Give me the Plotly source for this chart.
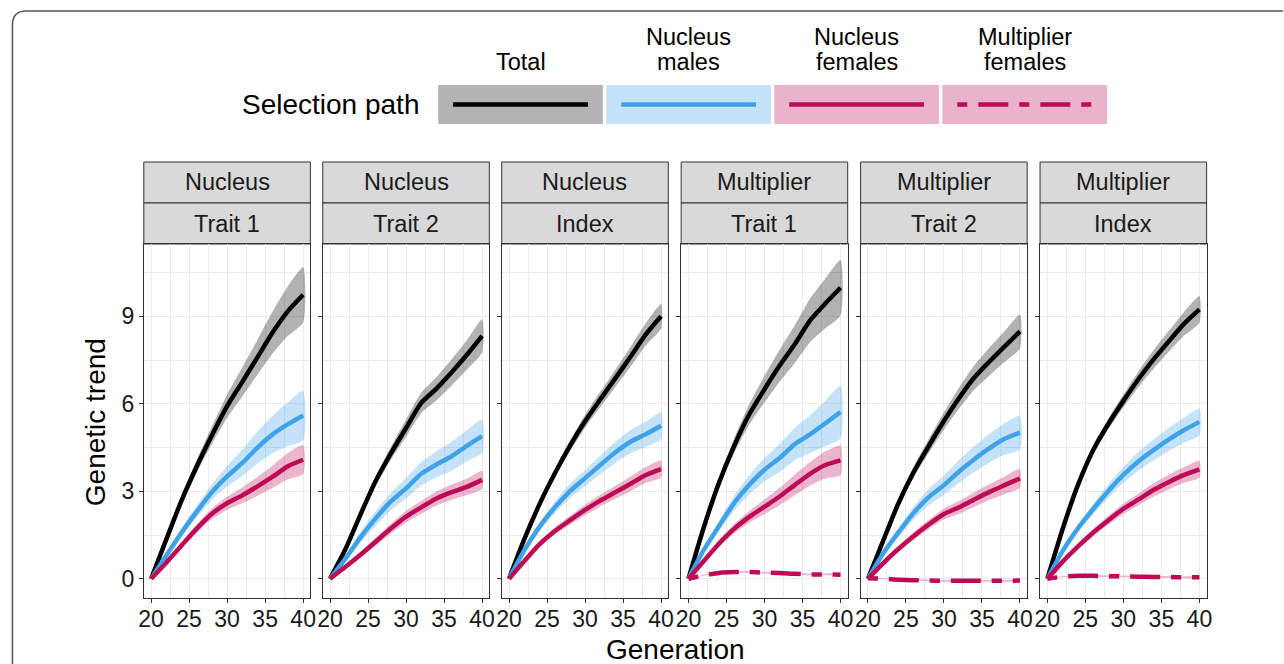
import plotly.graph_objects as go

# ---------------- data ----------------
generation = [20, 22, 24, 26, 28, 30, 32, 34, 36, 38, 40]
population = ["Nucleus", "Nucleus", "Nucleus", "Multiplier", "Multiplier", "Multiplier"]
trait = ["Trait 1", "Trait 2", "Index", "Trait 1", "Trait 2", "Index"]
path_labels = ["Total", "Nucleus<br>males", "Nucleus<br>females", "Multiplier<br>females"]

# Nucleus - Trait 1
nt1_total = [0, 1.35, 2.68, 3.85, 4.92, 5.92, 6.75, 7.60, 8.45, 9.18, 9.74]
nt1_total_hw = [0, 0.08, 0.15, 0.22, 0.30, 0.40, 0.50, 0.60, 0.72, 0.85, 0.95]
nt1_males = [0, 0.80, 1.58, 2.30, 2.97, 3.51, 3.97, 4.50, 4.95, 5.30, 5.60]
nt1_males_hw = [0, 0.08, 0.15, 0.20, 0.27, 0.35, 0.45, 0.55, 0.65, 0.75, 0.85]
nt1_females = [0, 0.55, 1.14, 1.72, 2.23, 2.59, 2.86, 3.17, 3.50, 3.86, 4.08]
nt1_females_hw = [0, 0.06, 0.10, 0.14, 0.18, 0.22, 0.27, 0.32, 0.38, 0.45, 0.50]

# Nucleus - Trait 2
nt2_total = [0, 1.00, 2.20, 3.35, 4.30, 5.17, 6.03, 6.52, 7.08, 7.68, 8.33]
nt2_total_hw = [0, 0.05, 0.10, 0.15, 0.22, 0.30, 0.35, 0.40, 0.45, 0.50, 0.57]
nt2_males = [0, 0.68, 1.42, 2.07, 2.65, 3.10, 3.60, 3.92, 4.20, 4.56, 4.89]
nt2_males_hw = [0, 0.10, 0.18, 0.25, 0.30, 0.35, 0.40, 0.45, 0.50, 0.53, 0.57]
nt2_females = [0, 0.40, 0.82, 1.27, 1.72, 2.13, 2.45, 2.75, 2.97, 3.15, 3.39]
nt2_females_hw = [0, 0.06, 0.10, 0.14, 0.17, 0.20, 0.22, 0.24, 0.26, 0.28, 0.30]

# Nucleus - Index
nix_total = [0, 1.35, 2.55, 3.60, 4.55, 5.40, 6.15, 6.88, 7.62, 8.38, 9.00]
nix_total_hw = [0, 0.05, 0.10, 0.14, 0.18, 0.22, 0.26, 0.30, 0.34, 0.38, 0.42]
nix_males = [0, 0.97, 1.78, 2.44, 3.00, 3.45, 3.90, 4.34, 4.70, 4.96, 5.25]
nix_males_hw = [0, 0.08, 0.14, 0.20, 0.25, 0.28, 0.32, 0.36, 0.40, 0.43, 0.46]
nix_females = [0, 0.60, 1.18, 1.63, 2.00, 2.36, 2.68, 2.97, 3.26, 3.56, 3.76]
nix_females_hw = [0, 0.05, 0.09, 0.12, 0.15, 0.18, 0.20, 0.22, 0.25, 0.27, 0.29]

# Multiplier - Trait 1
mt1_total = [0, 1.75, 3.28, 4.55, 5.64, 6.50, 7.31, 8.05, 8.86, 9.44, 9.98]
mt1_total_hw = [0, 0.08, 0.15, 0.25, 0.35, 0.45, 0.55, 0.65, 0.75, 0.85, 0.95]
mt1_males = [0, 0.98, 1.80, 2.59, 3.22, 3.74, 4.14, 4.62, 4.95, 5.33, 5.72]
mt1_males_hw = [0, 0.10, 0.18, 0.26, 0.33, 0.40, 0.48, 0.56, 0.65, 0.78, 0.90]
mt1_females = [0, 0.60, 1.20, 1.71, 2.12, 2.47, 2.82, 3.22, 3.60, 3.90, 4.06]
mt1_females_hw = [0, 0.07, 0.12, 0.16, 0.20, 0.25, 0.30, 0.35, 0.40, 0.46, 0.50]
mt1_mult = [0, 0.12, 0.20, 0.23, 0.23, 0.21, 0.20, 0.17, 0.15, 0.15, 0.14]
mt1_mult_hw = [0, 0.02, 0.03, 0.03, 0.03, 0.03, 0.03, 0.03, 0.03, 0.03, 0.03]

# Multiplier - Trait 2
mt2_total = [0, 1.30, 2.58, 3.65, 4.55, 5.41, 6.20, 6.90, 7.45, 7.97, 8.48]
mt2_total_hw = [0, 0.06, 0.12, 0.18, 0.24, 0.30, 0.36, 0.42, 0.48, 0.53, 0.58]
mt2_males = [0, 0.87, 1.58, 2.25, 2.80, 3.21, 3.68, 4.10, 4.48, 4.80, 5.01]
mt2_males_hw = [0, 0.08, 0.15, 0.22, 0.28, 0.33, 0.39, 0.44, 0.49, 0.54, 0.58]
mt2_females = [0, 0.53, 1.02, 1.46, 1.86, 2.22, 2.45, 2.72, 2.98, 3.21, 3.44]
mt2_females_hw = [0, 0.05, 0.09, 0.13, 0.16, 0.19, 0.22, 0.25, 0.27, 0.30, 0.32]
mt2_mult = [0.02, 0.00, -0.03, -0.05, -0.06, -0.07, -0.07, -0.07, -0.07, -0.07, -0.06]
mt2_mult_hw = [0, 0.02, 0.03, 0.03, 0.03, 0.03, 0.03, 0.03, 0.03, 0.03, 0.03]

# Multiplier - Index
mix_total = [0, 1.70, 3.20, 4.40, 5.30, 6.10, 6.85, 7.53, 8.15, 8.75, 9.24]
mix_total_hw = [0, 0.05, 0.10, 0.14, 0.18, 0.22, 0.27, 0.32, 0.36, 0.41, 0.46]
mix_males = [0, 0.95, 1.72, 2.38, 3.00, 3.56, 4.03, 4.42, 4.78, 5.10, 5.38]
mix_males_hw = [0, 0.07, 0.13, 0.18, 0.23, 0.28, 0.32, 0.36, 0.40, 0.43, 0.46]
mix_females = [0, 0.58, 1.10, 1.58, 2.00, 2.40, 2.72, 3.05, 3.32, 3.56, 3.75]
mix_females_hw = [0, 0.05, 0.09, 0.12, 0.15, 0.18, 0.20, 0.23, 0.25, 0.27, 0.29]
mix_mult = [0, 0.07, 0.10, 0.10, 0.09, 0.08, 0.07, 0.06, 0.06, 0.05, 0.05]
mix_mult_hw = [0, 0.02, 0.03, 0.03, 0.03, 0.03, 0.03, 0.03, 0.03, 0.03, 0.03]

x_ticks = [20, 25, 30, 35, 40]
y_ticks = [0, 3, 6, 9]

# ---------------- styling ----------------
W, H = 1284, 664
FONT = "Liberation Sans, Arial, Helvetica, sans-serif"
line_colors = ["#000000", "#3FA2E8", "#BE0A56", "#BE0A56"]
band_colors = ["rgba(0,0,0,0.30)", "rgba(63,162,232,0.30)",
               "rgba(190,10,86,0.30)", "rgba(190,10,86,0.30)"]
line_dash = ["solid", "solid", "solid", "10px,11px,30px,11px"]

panels = [
    [(nt1_total, nt1_total_hw), (nt1_males, nt1_males_hw), (nt1_females, nt1_females_hw)],
    [(nt2_total, nt2_total_hw), (nt2_males, nt2_males_hw), (nt2_females, nt2_females_hw)],
    [(nix_total, nix_total_hw), (nix_males, nix_males_hw), (nix_females, nix_females_hw)],
    [(mt1_total, mt1_total_hw), (mt1_males, mt1_males_hw), (mt1_females, mt1_females_hw), (mt1_mult, mt1_mult_hw)],
    [(mt2_total, mt2_total_hw), (mt2_males, mt2_males_hw), (mt2_females, mt2_females_hw), (mt2_mult, mt2_mult_hw)],
    [(mix_total, mix_total_hw), (mix_males, mix_males_hw), (mix_females, mix_females_hw), (mix_mult, mix_mult_hw)],
]

panel_left_px = [140, 320.5, 501, 682, 863, 1044]
panel_w_px = 168
plot_top_px, plot_bot_px = 244, 598
strip_top_px, strip_mid_px = 162, 203

TICK_SIZE = 23
STRIP_SIZE = 23.5
TITLE_SIZE = 28
LEG_LABEL_SIZE = 23.5


def px_x(p):
    return p / W


def px_y(p):
    return 1 - p / H


fig = go.Figure()
layout_axes = {}
shapes = []
annotations = []

for i, series in enumerate(panels):
    k = "" if i == 0 else str(i + 1)
    xa, ya = "x" + k, "y" + k
    # ribbons first
    for j, (mean, hw) in enumerate(series):
        upper = [m + h for m, h in zip(mean, hw)]
        lower = [m - h for m, h in zip(mean, hw)]
        fig.add_trace(go.Scatter(
            x=generation + generation[::-1], y=upper + lower[::-1],
            fill="toself", fillcolor=band_colors[j], mode="lines",
            line=dict(width=0, shape="spline", smoothing=0.6),
            hoverinfo="skip", showlegend=False, xaxis=xa, yaxis=ya))
    for j, (mean, hw) in enumerate(series):
        fig.add_trace(go.Scatter(
            x=generation, y=mean, mode="lines",
            line=dict(color=line_colors[j], width=4.5, dash=line_dash[j],
                      shape="spline", smoothing=0.6),
            showlegend=False, xaxis=xa, yaxis=ya, name=path_labels[j]))

    x0 = panel_left_px[i]
    x1 = x0 + panel_w_px
    layout_axes["xaxis" + k] = dict(
        domain=[px_x(x0), px_x(x1)], anchor=ya, range=[19.04, 40.95],
        tickvals=x_ticks, ticks="outside", ticklen=4, tickwidth=1, tickcolor="#333333",
        ticklabelstandoff=-4,
        showline=True, mirror=True, linecolor="#333333", linewidth=1,
        showgrid=True, gridcolor="#EBEBEB", gridwidth=1.2, zeroline=False,
        minor=dict(tick0=20, dtick=2.5, showgrid=True, gridcolor="#EBEBEB",
                   gridwidth=0.6, ticks=""),
        tickfont=dict(size=TICK_SIZE, color="#1A1A1A", family=FONT), fixedrange=True)
    layout_axes["yaxis" + k] = dict(
        domain=[px_y(plot_bot_px), px_y(plot_top_px)], anchor=xa, range=[-0.66, 11.48],
        tickvals=y_ticks, ticks="outside", ticklen=4, tickwidth=1, tickcolor="#333333",
        showticklabels=(i == 0),
        showline=True, mirror=True, linecolor="#333333", linewidth=1,
        showgrid=True, gridcolor="#EBEBEB", gridwidth=1.2, zeroline=False,
        minor=dict(tick0=0, dtick=1.5, showgrid=True, gridcolor="#EBEBEB",
                   gridwidth=0.6, ticks=""),
        tickfont=dict(size=TICK_SIZE, color="#1A1A1A", family=FONT), fixedrange=True)

    # facet strips
    for (ta, tb), label in [((strip_top_px, strip_mid_px), population[i]),
                            ((strip_mid_px, plot_top_px), trait[i])]:
        shapes.append(dict(type="rect", xref="paper", yref="paper",
                           x0=px_x(x0), x1=px_x(x1), y0=px_y(tb), y1=px_y(ta),
                           fillcolor="#D9D9D9", line=dict(color="#333333", width=1),
                           layer="below"))
        annotations.append(dict(xref="paper", yref="paper", x=px_x((x0 + x1) / 2),
                                y=px_y((ta + tb) / 2), text=label, showarrow=False,
                                xanchor="center", yanchor="middle",
                                font=dict(size=STRIP_SIZE, color="#1A1A1A", family=FONT)))

# axis titles
annotations.append(dict(xref="paper", yref="paper", x=px_x(676), y=px_y(649),
                        text="Generation", showarrow=False, xanchor="center", yanchor="middle",
                        font=dict(size=TITLE_SIZE, color="#000000", family=FONT)))
annotations.append(dict(xref="paper", yref="paper", x=px_x(91), y=px_y(422),
                        text="Genetic trend", showarrow=False, xanchor="center", yanchor="middle",
                        textangle=-90, font=dict(size=TITLE_SIZE, color="#000000", family=FONT)))

# legend (drawn manually)
annotations.append(dict(xref="paper", yref="paper", x=px_x(237), y=px_y(105),
                        text="Selection path", showarrow=False, xanchor="left", yanchor="middle",
                        font=dict(size=TITLE_SIZE, color="#000000", family=FONT)))
key_left = [437, 606.5, 776, 945.5]
key_w = 166
key_top, key_bot = 85, 124
key_fill = ["#B3B3B3", "#C5E3F8", "#EBB3CB", "#EBB3CB"]
for j in range(4):
    kx0 = key_left[j]
    kx1 = kx0 + key_w
    shapes.append(dict(type="rect", xref="paper", yref="paper",
                       x0=px_x(kx0), x1=px_x(kx1), y0=px_y(key_bot), y1=px_y(key_top),
                       fillcolor=key_fill[j], line=dict(width=0), layer="above"))
    shapes.append(dict(type="line", xref="paper", yref="paper",
                       x0=px_x(kx0 + 15), x1=px_x(kx1 - 15),
                       y0=px_y(104.5), y1=px_y(104.5),
                       line=dict(color=line_colors[j], width=4.5, dash=line_dash[j]),
                       layer="above"))
    parts = path_labels[j].split("<br>")
    line_ys = [62] if len(parts) == 1 else [37, 62]
    for part, ly in zip(parts, line_ys):
        annotations.append(dict(xref="paper", yref="paper", x=px_x((kx0 + kx1) / 2),
                                y=px_y(ly), text=part, showarrow=False,
                                xanchor="center", yanchor="middle",
                                font=dict(size=LEG_LABEL_SIZE, color="#000000", family=FONT)))

# outer rounded frame (left & top edges visible)
r = 14
fx, fy = 7.5, 11
path = (f"M {px_x(fx)},{px_y(H + 5)} L {px_x(fx)},{px_y(fy + r)} "
        f"Q {px_x(fx)},{px_y(fy)} {px_x(fx + r)},{px_y(fy)} L {px_x(W + 5)},{px_y(fy)}")
shapes.append(dict(type="path", xref="paper", yref="paper", path=path,
                   line=dict(color="#555555", width=1.5)))

fig.update_layout(
    width=W, height=H, margin=dict(l=0, r=0, t=0, b=0),
    paper_bgcolor="white", plot_bgcolor="white",
    showlegend=False, shapes=shapes, annotations=annotations,
    font=dict(family=FONT), **layout_axes)

fig.write_html("out.html", config={"displayModeBar": False})
